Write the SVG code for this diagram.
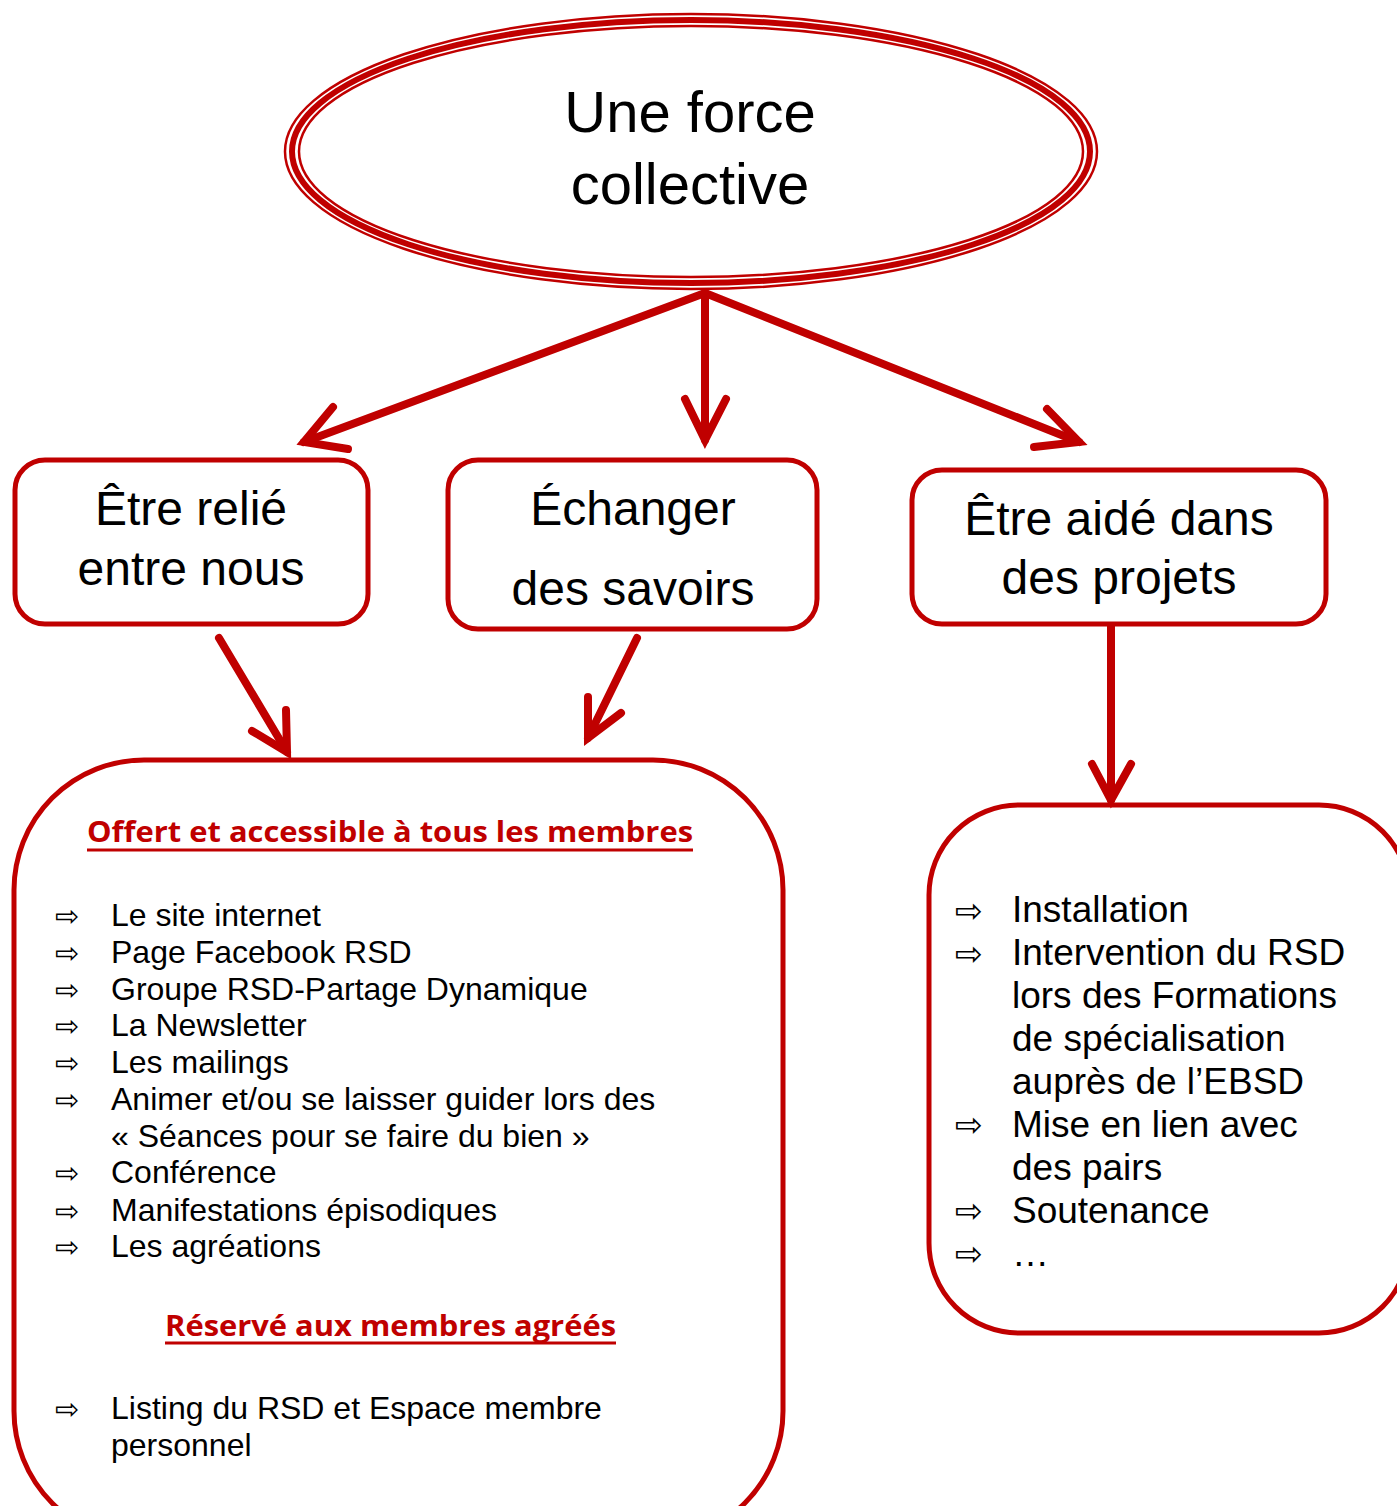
<svg xmlns="http://www.w3.org/2000/svg" width="1397" height="1506" viewBox="0 0 1397 1506">
<style>
.bg{fill:#ffffff}
.box{fill:#ffffff;stroke:#C00000;stroke-width:5}
.ell{fill:none;stroke:#C00000}
.t{font-family:"Liberation Sans",Arial,sans-serif;fill:#000000}
.title{font-size:58px;text-anchor:middle}
.nt{font-size:48px;text-anchor:middle}
.li{font-size:32px}
.ri{font-size:37px}
.bl{font-family:"DejaVu Sans",sans-serif;fill:#000000}
.hd{font-family:"Open Sans",Lato,sans-serif;font-weight:bold;font-size:29px;fill:#C00000}
.ul{stroke:#C00000;stroke-width:3}
.conn{fill:none;stroke:#C00000;stroke-width:8;stroke-linecap:round;stroke-linejoin:miter}
</style>
<rect class="bg" x="0" y="0" width="1397" height="1506"/>

<g id="node-force">
<ellipse class="ell" cx="691" cy="151.5" rx="406" ry="137.5" stroke-width="2.5"/>
<ellipse class="ell" cx="691" cy="151.5" rx="399" ry="131.5" stroke-width="6"/>
<ellipse class="ell" cx="691" cy="151.5" rx="392" ry="125.5" stroke-width="2.5"/>
<text class="t title" x="690" y="132">Une force</text>
<text class="t title" x="690" y="204">collective</text>
</g>

<g id="node-relie">
<rect class="box" x="15" y="460" width="353" height="164" rx="30"/>
<text class="t nt" x="191" y="525">Être relié</text>
<text class="t nt" x="191" y="585">entre nous</text>
</g>

<g id="node-echanger">
<rect class="box" x="448" y="460" width="369" height="169" rx="30"/>
<text class="t nt" x="633" y="525">Échanger</text>
<text class="t nt" x="633" y="605">des savoirs</text>
</g>

<g id="node-aide">
<rect class="box" x="912" y="470" width="414" height="154" rx="30"/>
<text class="t nt" x="1119" y="535">Être aidé dans</text>
<text class="t nt" x="1119" y="594">des projets</text>
</g>

<g id="node-membres">
<rect class="box" x="14" y="760" width="769" height="781" rx="130"/>
<text class="hd" x="87" y="842" textLength="606" lengthAdjust="spacingAndGlyphs">Offert et accessible à tous les membres</text>
<line class="ul" x1="87" y1="850" x2="693" y2="850"/>
<g class="bl" font-size="29">
<text x="55" y="926">⇨</text>
<text x="55" y="963">⇨</text>
<text x="55" y="1000">⇨</text>
<text x="55" y="1036">⇨</text>
<text x="55" y="1073">⇨</text>
<text x="55" y="1110">⇨</text>
<text x="55" y="1183">⇨</text>
<text x="55" y="1221">⇨</text>
<text x="55" y="1257">⇨</text>
<text x="55" y="1419">⇨</text>
</g>
<g class="t li">
<text x="111" y="926">Le site internet</text>
<text x="111" y="963">Page Facebook RSD</text>
<text x="111" y="1000">Groupe RSD-Partage Dynamique</text>
<text x="111" y="1036">La Newsletter</text>
<text x="111" y="1073">Les mailings</text>
<text x="111" y="1110">Animer et/ou se laisser guider lors des</text>
<text x="111" y="1147">« Séances pour se faire du bien »</text>
<text x="111" y="1183">Conférence</text>
<text x="111" y="1221">Manifestations épisodiques</text>
<text x="111" y="1257">Les agréations</text>
<text x="111" y="1419">Listing du RSD et Espace membre</text>
<text x="111" y="1456">personnel</text>
</g>
<text class="hd" x="165" y="1336" textLength="451" lengthAdjust="spacingAndGlyphs">Réservé aux membres agréés</text>
<line class="ul" x1="165" y1="1343" x2="616" y2="1343"/>
</g>

<g id="node-projets">
<rect class="box" x="929" y="805" width="480" height="528" rx="90"/>
<g class="bl" font-size="33">
<text x="955" y="922">⇨</text>
<text x="955" y="965">⇨</text>
<text x="955" y="1136">⇨</text>
<text x="955" y="1222">⇨</text>
<text x="955" y="1265">⇨</text>
</g>
<g class="t ri">
<text x="1012" y="922">Installation</text>
<text x="1012" y="965">Intervention du RSD</text>
<text x="1012" y="1008">lors des Formations</text>
<text x="1012" y="1051">de spécialisation</text>
<text x="1012" y="1094">auprès de l’EBSD</text>
<text x="1012" y="1137">Mise en lien avec</text>
<text x="1012" y="1180">des pairs</text>
<text x="1012" y="1223">Soutenance</text>
<text x="1012" y="1266">…</text>
</g>
</g>

<g id="connectors">
<line class="conn" x1="705" y1="293" x2="304" y2="442"/>
<polyline class="conn" points="333,407 304,442 348,449"/>
<line class="conn" x1="705" y1="293" x2="705" y2="440" stroke-width="7"/>
<polyline class="conn" points="685,399 705,440 726,399" stroke-width="7"/>
<line class="conn" x1="705" y1="293" x2="1079" y2="442"/>
<polyline class="conn" points="1047,409 1079,442 1034,447"/>
<line class="conn" x1="219" y1="638" x2="287" y2="752"/>
<polyline class="conn" points="252,731 287,752 286,710"/>
<line class="conn" x1="637" y1="638" x2="588" y2="738"/>
<polyline class="conn" points="588,697 588,738 621,713"/>
<line class="conn" x1="1111" y1="626" x2="1111" y2="800" stroke-width="9"/>
<polyline class="conn" points="1092,764 1111,800 1131,764" stroke-width="9"/>
</g>
</svg>
